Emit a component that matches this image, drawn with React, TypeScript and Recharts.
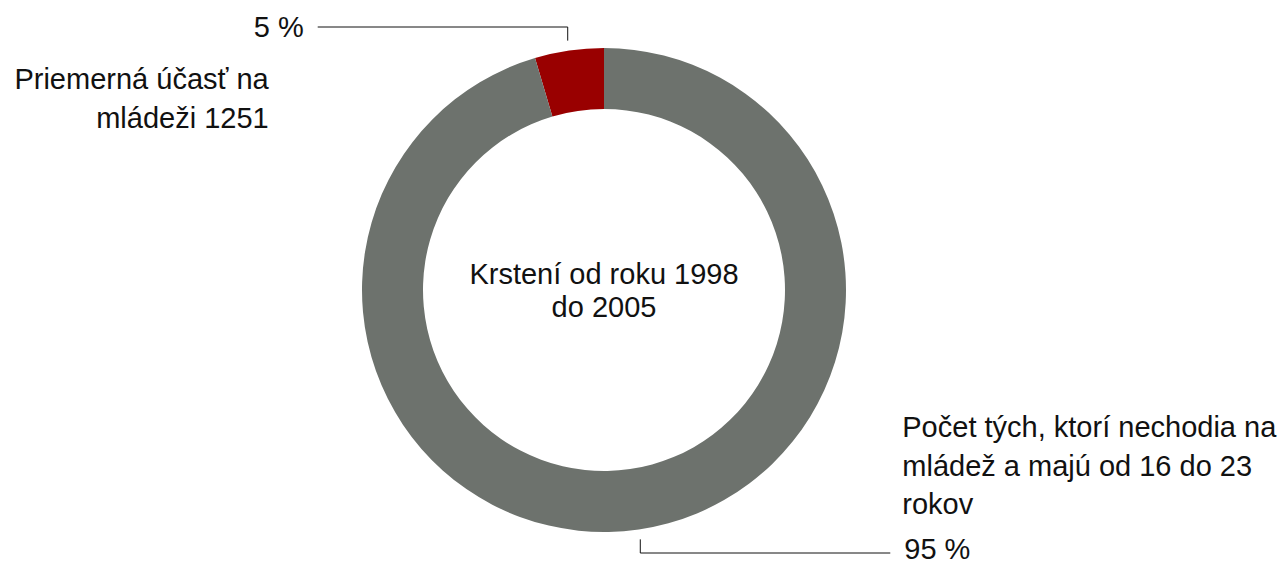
import React from 'react';
import { PieChart, Pie, Cell } from 'recharts';

const names = [
  ['Priemerná účasť na', 'mládeži 1251'],
  ['Počet tých, ktorí nechodia na', 'mládež a majú od 16 do 23', 'rokov'],
];
const values = [4.6, 95.4];
const colors = ['#990000', '#6d726d'];
const centerLines = ['Krstení od roku 1998', 'do 2005'];

const data = values.map((v, i) => ({ name: names[i].join(' '), value: v }));

const FONT = '"Liberation Sans", Arial, Helvetica, sans-serif';
const FS = 29;
const RADIAN = Math.PI / 180;

function renderLabel(props: any) {
  const { cx, cy, midAngle, outerRadius, percent, index } = props;
  const cos = Math.cos(-midAngle * RADIAN);
  const sin = Math.sin(-midAngle * RADIAN);
  const sx = cx + (outerRadius + 10) * cos;
  const sy = cy + (outerRadius + 10) * sin;
  const top = sin < 0;
  const ey = top ? cy - outerRadius - 21 : cy + outerRadius + 21;
  const dir = top ? -1 : 1;
  const ex = sx + dir * 250;
  const tx = ex + dir * 14;
  const nx = top ? ex - 49 : ex + 12;
  const lines = names[index];
  return (
    <g key={`lbl-${index}`}>
      {index === 0 && (
        <text
          x={cx}
          y={cy - 16}
          textAnchor="middle"
          fontSize={FS}
          fontFamily={FONT}
          fill="#111"
        >
          {centerLines.map((l, i) => (
            <tspan key={i} x={cx} dy={i === 0 ? '0.35em' : 33}>
              {l}
            </tspan>
          ))}
        </text>
      )}
      <polyline
        points={`${sx},${sy} ${sx},${ey} ${ex},${ey}`}
        fill="none"
        stroke="#111"
        strokeWidth={1}
      />
      <text
        x={tx}
        y={ey}
        dy={top ? '0.35em' : '0.2em'}
        textAnchor={top ? 'end' : 'start'}
        fontSize={FS}
        fontFamily={FONT}
        fill="#111"
      >
        {`${Math.round(percent * 100)} %`}
      </text>
      <text
        x={nx}
        y={top ? ey + 52 : ey - 126}
        textAnchor={top ? 'end' : 'start'}
        fontSize={FS}
        fontFamily={FONT}
        fill="#111"
      >
        {lines.map((l, i) => (
          <tspan key={i} x={nx} dy={i === 0 ? '0.35em' : 38.5}>
            {l}
          </tspan>
        ))}
      </text>
    </g>
  );
}

export default function App() {
  return (
    <div style={{ position: 'absolute', left: 0, top: 0, background: '#fff' }}>
      <PieChart width={1283} height={565} margin={{ top: 0, right: 0, bottom: 0, left: 0 }}>
        <Pie
          data={data}
          dataKey="value"
          nameKey="name"
          cx={604}
          cy={290}
          innerRadius={181}
          outerRadius={242}
          startAngle={90}
          endAngle={450}
          stroke="none"
          label={renderLabel}
          labelLine={false}
          isAnimationActive={false}
        >
          {data.map((d, i) => (
            <Cell key={d.name} fill={colors[i]} />
          ))}
        </Pie>
      </PieChart>
    </div>
  );
}
